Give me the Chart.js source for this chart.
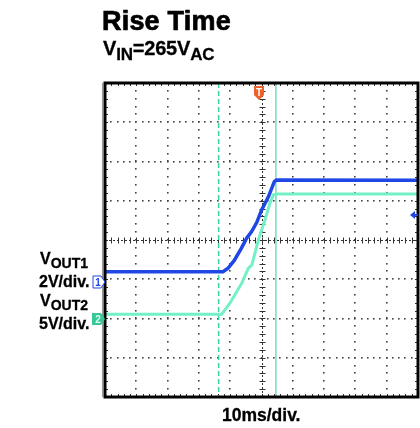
<!DOCTYPE html>
<html>
<head>
<meta charset="utf-8">
<script src="https://cdn.jsdelivr.net/npm/chart.js@4.4.1/dist/chart.umd.min.js"></script>
<style>
  body { margin: 0; background: #fff; font-family: "Liberation Sans", Arial, sans-serif; }
  #wrap { position: relative; width: 420px; height: 428px; overflow: hidden; }
  #scope { position: absolute; left: 0; top: 0; }
  .lbl { position: absolute; font-weight: bold; color: #000; white-space: nowrap; line-height: 1; -webkit-text-stroke: 0.3px #000; }
  .sub { position: relative; }
</style>
</head>
<body>
<div id="wrap">
  <canvas id="scope" width="420" height="428"></canvas>
  <div class="lbl" style="left:102px; top:8px; font-size:27px; letter-spacing:0.2px; -webkit-text-stroke:0.7px #000;">Rise Time</div>
  <div class="lbl" style="left:103px; top:38px; font-size:20px; letter-spacing:-0.2px;">V<span class="sub" style="font-size:17px; top:5px;">IN</span>=265V<span class="sub" style="font-size:17px; top:5px;">AC</span></div>
  <div class="lbl" style="left:40px; top:251px; font-size:16px;">V<span class="sub" style="font-size:14px; top:4px;">OUT1</span></div>
  <div class="lbl" style="left:39px; top:274px; font-size:16px;">2V/div.</div>
  <div class="lbl" style="left:40px; top:293px; font-size:16px;">V<span class="sub" style="font-size:14px; top:4px;">OUT2</span></div>
  <div class="lbl" style="left:39px; top:316px; font-size:16px;">5V/div.</div>
  <div class="lbl" style="left:222px; top:407px; font-size:17.5px;">10ms/div.</div>
</div>
<script>
// screen is 10 divisions across, 8 divisions high, in div units
const xDivs = [0, 1, 2, 3, 4, 5, 6, 7, 8, 9, 10];
const yDivs = [-4, -3, -2, -1, 0, 1, 2, 3, 4];

// VOUT1 (2V/div) trace in divisions
const out1X = [0, 3.77, 3.93, 4.13, 4.35, 4.53, 4.68, 4.85, 5.00, 5.22, 5.41, 5.48, 10];
const out1Y = [-0.81, -0.81, -0.72, -0.52, -0.22, 0.05, 0.21, 0.45, 0.76, 1.10, 1.49, 1.53, 1.52];

// VOUT2 (5V/div) trace
const out2X = [0, 3.73, 3.99, 4.37, 4.58, 4.69, 4.90, 5.11, 5.27, 5.38, 5.48, 10];
const out2Y = [-1.89, -1.89, -1.61, -1.10, -0.72, -0.64, 0.0, 0.51, 0.94, 1.15, 1.17, 1.17];

// cursors, trigger and channel ground markers
const cursorA = 3.63;
const cursorB = 5.46;
const trigX = 4.92;
const ch1Ground = -1.07;
const ch2Ground = -2.01;
const trigLevel = 0.64;

const toPoints = (xs, ys) => xs.map((v, i) => ({x: v, y: ys[i]}));

const scopeGrid = {
  id: 'scopeGrid',
  beforeDatasetsDraw(chart) {
    const {ctx, chartArea: a, scales: {x, y}} = chart;
    ctx.save();
    ctx.fillStyle = '#444';
    // dotted grid
    xDivs.forEach(d => {
      if (d === 0 || d === 10 || d === 5) return;
      const px = Math.round(x.getPixelForValue(d));
      for (let v = -4; v <= 4.001; v += 0.2) {
        ctx.fillRect(px - 1, Math.round(y.getPixelForValue(v)) - 1, 1.6, 1.6);
      }
    });
    yDivs.forEach(d => {
      if (d === -4 || d === 4 || d === 0) return;
      const py = Math.round(y.getPixelForValue(d));
      for (let v = 0; v <= 10.001; v += 0.2) {
        ctx.fillRect(Math.round(x.getPixelForValue(v)) - 1, py - 1, 1.6, 1.6);
      }
    });
    // center axes with minor ticks
    const cx = Math.round(x.getPixelForValue(5)) + 0.5;
    const cy = Math.round(y.getPixelForValue(0)) + 0.5;
    ctx.strokeStyle = '#333';
    ctx.lineWidth = 1;
    ctx.setLineDash([2, 2]);
    ctx.beginPath();
    ctx.moveTo(a.left, cy); ctx.lineTo(a.right, cy);
    ctx.moveTo(cx, a.top); ctx.lineTo(cx, a.bottom);
    ctx.stroke();
    ctx.setLineDash([]);
    ctx.beginPath();
    for (let v = 0; v <= 10.001; v += 0.2) {
      const px = Math.round(x.getPixelForValue(v)) + 0.5;
      ctx.moveTo(px, cy - 3); ctx.lineTo(px, cy + 3);
      // border ticks
      ctx.moveTo(px, a.top); ctx.lineTo(px, a.top + 3);
      ctx.moveTo(px, a.bottom); ctx.lineTo(px, a.bottom - 3);
    }
    for (let v = -4; v <= 4.001; v += 0.2) {
      const py = Math.round(y.getPixelForValue(v)) + 0.5;
      ctx.moveTo(cx - 3, py); ctx.lineTo(cx + 3, py);
      ctx.moveTo(a.left, py); ctx.lineTo(a.left + 3, py);
      ctx.moveTo(a.right, py); ctx.lineTo(a.right - 3, py);
    }
    ctx.stroke();
    // cursors
    ctx.lineWidth = 1.5;
    ctx.strokeStyle = '#3ccf9f';
    ctx.setLineDash([5, 3]);
    ctx.beginPath();
    const ax = x.getPixelForValue(cursorA);
    ctx.moveTo(ax, a.top); ctx.lineTo(ax, a.bottom);
    ctx.stroke();
    ctx.setLineDash([]);
    ctx.strokeStyle = '#7cdcbb';
    ctx.beginPath();
    const bx = x.getPixelForValue(cursorB);
    ctx.moveTo(bx, a.top); ctx.lineTo(bx, a.bottom);
    ctx.stroke();
    ctx.restore();
  },
  afterDatasetsDraw(chart) {
    const {ctx, chartArea: a, scales: {x, y}} = chart;
    ctx.save();
    // frame
    ctx.strokeStyle = '#000';
    ctx.lineWidth = 3;
    ctx.strokeRect(a.left, a.top, a.right - a.left, a.bottom - a.top);
    ctx.fillStyle = '#999';
    ctx.fillRect(a.left - 3, a.top, 1, a.bottom - a.top);

    ctx.font = 'bold 10px "Liberation Sans", Arial';
    ctx.textAlign = 'center';
    ctx.textBaseline = 'middle';

    // channel 1 ground marker (outline)
    let gy = y.getPixelForValue(ch1Ground);
    ctx.beginPath();
    ctx.moveTo(a.left - 12, gy - 6); ctx.lineTo(a.left - 4, gy - 6);
    ctx.lineTo(a.left, gy); ctx.lineTo(a.left - 4, gy + 6);
    ctx.lineTo(a.left - 12, gy + 6); ctx.closePath();
    ctx.fillStyle = '#fff'; ctx.fill();
    ctx.strokeStyle = '#2046e0'; ctx.lineWidth = 1; ctx.stroke();
    ctx.fillStyle = '#2046e0';
    ctx.fillText('1', a.left - 7, gy + 1);

    // channel 2 ground marker (filled)
    gy = y.getPixelForValue(ch2Ground);
    ctx.beginPath();
    ctx.moveTo(a.left - 13, gy - 6); ctx.lineTo(a.left - 4, gy - 6);
    ctx.lineTo(a.left, gy); ctx.lineTo(a.left - 4, gy + 6);
    ctx.lineTo(a.left - 13, gy + 6); ctx.closePath();
    ctx.fillStyle = '#38c796'; ctx.fill();
    ctx.fillStyle = '#d8fff0';
    ctx.fillText('2', a.left - 7, gy + 1);

    // trigger position marker
    const tx = x.getPixelForValue(trigX);
    ctx.beginPath();
    ctx.moveTo(tx - 5, a.top + 3); ctx.lineTo(tx + 5, a.top + 3);
    ctx.lineTo(tx + 5, a.top + 12); ctx.lineTo(tx, a.top + 17);
    ctx.lineTo(tx - 5, a.top + 12); ctx.closePath();
    ctx.fillStyle = '#f0602a'; ctx.fill();
    ctx.fillStyle = '#fff';
    ctx.fillText('T', tx, a.top + 10);

    // trigger level arrow
    const ty = y.getPixelForValue(trigLevel);
    ctx.fillStyle = '#2046e0';
    ctx.beginPath();
    ctx.moveTo(a.right - 8, ty); ctx.lineTo(a.right - 3, ty - 4);
    ctx.lineTo(a.right - 3, ty + 4); ctx.closePath();
    ctx.fill();
    ctx.fillRect(a.right - 4, ty - 1, 4, 2);
    ctx.restore();
  }
};

new Chart(document.getElementById('scope'), {
  type: 'line',
  data: {
    datasets: [
      {
        label: 'VOUT1',
        data: toPoints(out1X, out1Y),
        borderColor: '#1f47e6',
        borderWidth: 3.5,
        pointRadius: 0,
        tension: 0
      },
      {
        label: 'VOUT2',
        data: toPoints(out2X, out2Y),
        borderColor: '#74f0c9',
        borderWidth: 3,
        pointRadius: 0,
        tension: 0
      }
    ]
  },
  options: {
    responsive: false,
    animation: false,
    events: [],
    layout: { padding: { left: 105, top: 83, right: 2, bottom: 31 } },
    scales: {
      x: { type: 'linear', min: 0, max: 10, display: false },
      y: { type: 'linear', min: -4, max: 4, display: false }
    },
    plugins: {
      legend: { display: false },
      tooltip: { enabled: false }
    }
  },
  plugins: [scopeGrid]
});
</script>
</body>
</html>
